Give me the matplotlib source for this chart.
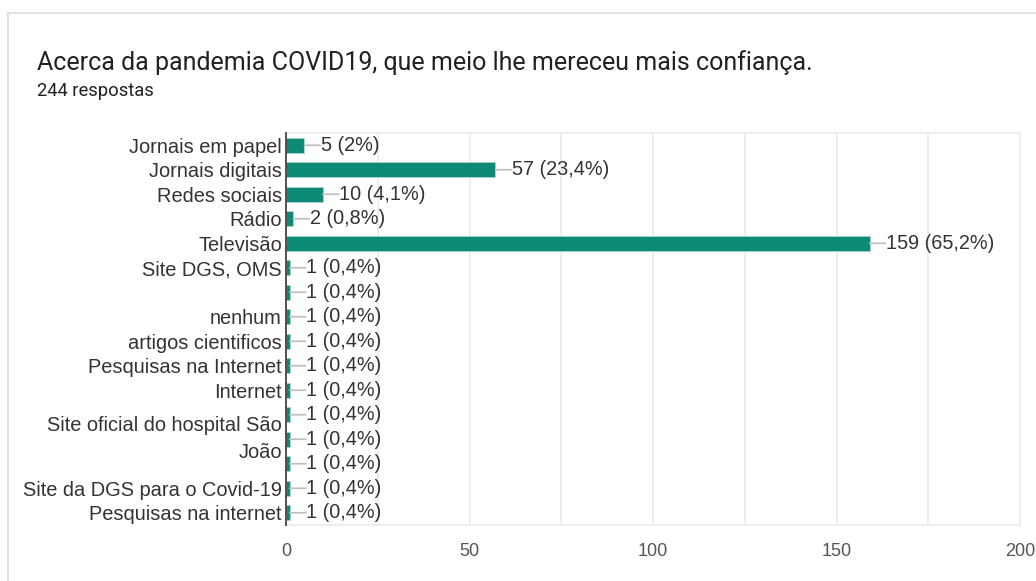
import matplotlib
matplotlib.use("Agg")
from matplotlib import pyplot as plt
from matplotlib.patches import Rectangle

title = "Acerca da pandemia COVID19, que meio lhe mereceu mais confiança."
subtitle = "244 respostas"
categories = [
    "Jornais em papel", "Jornais digitais", "Redes sociais", "Rádio", "Televisão",
    "Site DGS, OMS", "", "nenhum", "artigos cientificos", "Pesquisas na Internet",
    "Internet", "", "Site oficial do hospital São\nJoão", "", "Site da DGS para o Covid-19",
    "Pesquisas na internet",
]
counts = [5, 57, 10, 2, 159, 1, 1, 1, 1, 1, 1, 1, 1, 1, 1, 1]
pct_labels = ["2%", "23,4%", "4,1%", "0,8%", "65,2%"] + ["0,4%"] * 11
xticks = [0, 50, 100, 150, 200]

bar_color = "#0d8a76"

fig = plt.figure(figsize=(10.36, 5.81), dpi=100)
fig.patch.set_facecolor("white")

# card border
fig.patches.append(Rectangle((8 / 1036, -0.1), 1.2, 1 - 13 / 581 + 0.1,
                             transform=fig.transFigure, fill=False,
                             edgecolor="#dadce0", linewidth=1.2))

fig.text(37 / 1036, 1 - 63 / 581, title, family="Roboto", fontsize=18,
         color="#202124", va="center")
fig.text(37 / 1036, 1 - 91 / 581, subtitle, family="Roboto", fontsize=13.2,
         color="#202124", va="center")

ax = fig.add_axes([286 / 1036, 1 - 525 / 581, (1020 - 286) / 1036, (525 - 133) / 581])
pos = list(range(len(categories)))
ax.barh(pos, counts, height=0.6, color=bar_color, edgecolor="#a8d8cc",
        linewidth=0.6, zorder=3)
ax.set_ylim(len(categories) - 0.5, -0.5)
ax.set_xlim(0, 200)

for i, (c, p) in enumerate(zip(counts, pct_labels)):
    ax.annotate("", xy=(c, i), xytext=(11.5, 0), textcoords="offset points",
                arrowprops=dict(arrowstyle="-", color="#bdbdbd", lw=1.2,
                                shrinkA=0, shrinkB=0), zorder=4)
    ax.annotate(f"{c} ({p})", xy=(c, i), xytext=(12, 0), textcoords="offset points",
                va="center", ha="left", family="Liberation Sans", fontsize=14.3,
                color="#333333", zorder=4)

ax.set_yticks(pos)
ax.set_yticklabels(categories, family="Liberation Sans", fontsize=14.4, color="#333333")
for lbl in ax.get_yticklabels():
    if "\n" in lbl.get_text():
        lbl.set_linespacing(1.55)
        lbl.set_va("center")
ax.set_xticks(xticks)
ax.set_xticklabels([str(t) for t in xticks], family="Liberation Sans", fontsize=13,
                   color="#555555")
ax.set_xticks(range(25, 200, 50), minor=True)
ax.tick_params(axis="y", length=0, pad=3)
ax.tick_params(axis="x", which="both", length=0, pad=13)
ax.grid(axis="x", which="both", color="#ebebeb", linewidth=1.2, zorder=0)

for side in ["top", "right", "bottom"]:
    ax.spines[side].set_color("#ebebeb")
    ax.spines[side].set_linewidth(1.2)
ax.spines["left"].set_color("#444444")
ax.spines["left"].set_linewidth(1.3)
ax.spines["left"].set_zorder(5)

fig.savefig("out.png", dpi=100, facecolor="white")
